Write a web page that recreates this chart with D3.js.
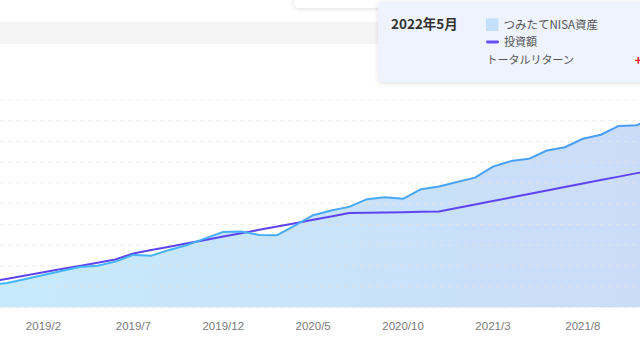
<!DOCTYPE html>
<html>
<head>
<meta charset="utf-8">
<script src="https://cdn.jsdelivr.net/npm/d3@7/dist/d3.min.js"></script>
<style>
  html, body { margin: 0; padding: 0; background: #fff; }
  svg { display: block; }
</style>
</head>
<body>
<svg id="chart" width="640" height="360"></svg>
<script>
// ---- data (万円) ----
const months = ["2018/11", "2018/12",
  "2019/1", "2019/2", "2019/3", "2019/4", "2019/5", "2019/6", "2019/7", "2019/8", "2019/9", "2019/10", "2019/11", "2019/12",
  "2020/1", "2020/2", "2020/3", "2020/4", "2020/5", "2020/6", "2020/7", "2020/8", "2020/9", "2020/10", "2020/11", "2020/12",
  "2021/1", "2021/2", "2021/3", "2021/4", "2021/5", "2021/6", "2021/7", "2021/8", "2021/9", "2021/10", "2021/11", "2021/12"];
const assetValues = [26.9, 29.3, 34.2, 38.9, 43.7, 48.6, 50.2, 55.1, 63.2, 62.3, 69.2, 75.2, 83.1, 90.9, 91.5, 87.3, 87.0, 98.9, 111.1, 116.7, 121.1, 130.4, 132.8, 130.8, 142.5, 145.6, 151.1, 156.4, 169.7, 176.3, 179.1, 189.1, 193.0, 203.3, 208.1, 218.7, 219.6, 228.6];
const investValues = [30.7, 34.5, 38.4, 42.3, 46.1, 49.9, 53.7, 57.6, 65.0, 69.0, 73.1, 77.2, 81.2, 85.3, 89.2, 93.4, 97.5, 101.4, 105.6, 109.5, 113.6, 114.0, 114.4, 114.7, 115.1, 115.5, 119.7, 123.9, 128.1, 132.4, 136.6, 140.8, 145.0, 149.3, 153.5, 157.6, 161.8, 166.1];
const tickLabels = ["2019/2", "2019/7", "2019/12", "2020/5", "2020/10", "2021/3", "2021/8"];
const yTicks = [0, 25, 50, 75, 100, 125, 150, 175, 200, 225, 250];
const seriesNames = ["つみたてNISA資産", "投資額"];
const tooltipTitle = "2022年5月";
const tooltipReturnLabel = "トータルリターン";
const tooltipReturnValue = "+57.8万円";

const narrow = "'Liberation Sans Narrow','Noto Sans CJK JP',sans-serif";
const sans = "'Liberation Sans',Arial,sans-serif";
const cjk = "'Noto Sans CJK JP','Liberation Sans Narrow',sans-serif";

const assetData = months.map((m, i) => ({ m, v: assetValues[i] }));
const investData = months.map((m, i) => ({ m, v: investValues[i] }));

const svg = d3.select("#chart");
const defs = svg.append("defs");

const x = d3.scalePoint().domain(months).range([-10.48, 654.78]).padding(0);
const y = d3.scaleLinear().domain([0, 250]).range([307.3, 100]);

// gradients
const ag = defs.append("linearGradient").attr("id", "areaGrad")
  .attr("gradientUnits", "userSpaceOnUse").attr("x1", 0).attr("x2", 640).attr("y1", 0).attr("y2", 0);
ag.append("stop").attr("offset", "0%").attr("stop-color", "#c6eafb");
ag.append("stop").attr("offset", "100%").attr("stop-color", "#cbdcf9");
const lg = defs.append("linearGradient").attr("id", "lineGrad")
  .attr("gradientUnits", "userSpaceOnUse").attr("x1", 0).attr("x2", 640).attr("y1", 0).attr("y2", 0);
lg.append("stop").attr("offset", "0%").attr("stop-color", "#42b8f8");
lg.append("stop").attr("offset", "100%").attr("stop-color", "#4a9cf4");

const sh = defs.append("filter").attr("id", "shadow").attr("x", "-20%").attr("y", "-50%").attr("width", "140%").attr("height", "200%");
sh.append("feDropShadow").attr("dx", 0).attr("dy", 1).attr("stdDeviation", 2.5)
  .attr("flood-color", "#000").attr("flood-opacity", 0.13);

// top grey band
svg.append("rect").attr("x", 0).attr("y", 22).attr("width", 640).attr("height", 22).attr("fill", "#f5f5f5");

// area
const area = d3.area().x(d => x(d.m)).y0(y(0)).y1(d => y(d.v));
svg.append("path").datum(assetData).attr("d", area).attr("fill", "url(#areaGrad)");

// grid lines over area
svg.append("g").selectAll("line").data(yTicks).join("line")
  .attr("x1", 0).attr("x2", 640)
  .attr("y1", d => y(d)).attr("y2", d => y(d))
  .attr("stroke", "#e4e4e4").attr("stroke-opacity", 0.8)
  .attr("stroke-width", 1).attr("stroke-dasharray", "4,4");

// lines
const line = d3.line().x(d => x(d.m)).y(d => y(d.v));
svg.append("path").datum(investData).attr("d", line)
  .attr("fill", "none").attr("stroke", "#5e44ef").attr("stroke-width", 2).attr("stroke-linejoin", "round");
svg.append("path").datum(assetData).attr("d", line)
  .attr("fill", "none").attr("stroke", "url(#lineGrad)").attr("stroke-width", 2).attr("stroke-linejoin", "round");

// x axis labels
svg.append("g").selectAll("text").data(tickLabels).join("text")
  .attr("x", d => x(d)).attr("y", 330)
  .attr("text-anchor", "middle")
  .attr("font-family", sans).attr("font-size", 11.5).attr("fill", "#7a7a7a")
  .text(d => d);

// top panel (behind tooltip)
svg.append("rect").attr("x", 294).attr("y", -30).attr("width", 400).attr("height", 38).attr("rx", 5)
  .attr("fill", "#fff").attr("filter", "url(#shadow)");

// tooltip
const tt = svg.append("g");
tt.append("rect").attr("x", 378).attr("y", 1.5).attr("width", 300).attr("height", 80.5).attr("rx", 4)
  .attr("fill", "#eef3fd").attr("filter", "url(#shadow)");
tt.append("text").attr("x", 391).attr("y", 29).attr("font-family", narrow).attr("font-size", 13.5)
  .attr("font-weight", "bold").attr("fill", "#333").text(tooltipTitle);
tt.append("rect").attr("x", 486).attr("y", 18.3).attr("width", 12.3).attr("height", 12.7).attr("fill", "#c3e1fb");
tt.append("text").attr("x", 503.5).attr("y", 28.5).attr("font-family", narrow).attr("font-size", 11.5)
  .attr("fill", "#555").text(seriesNames[0]);
tt.append("rect").attr("x", 486).attr("y", 40.6).attr("width", 13).attr("height", 2.8).attr("rx", 1.4).attr("fill", "#6a4cf5");
tt.append("text").attr("x", 504).attr("y", 45.5).attr("font-family", cjk).attr("font-size", 11)
  .attr("fill", "#555").text(seriesNames[1]);
tt.append("text").attr("x", 486.5).attr("y", 64).attr("font-family", cjk).attr("font-size", 11)
  .attr("fill", "#555").text(tooltipReturnLabel);
tt.append("text").attr("x", 634.5).attr("y", 64.5).attr("font-family", narrow).attr("font-size", 13)
  .attr("font-weight", "bold").attr("fill", "#e8132b").text(tooltipReturnValue);
</script>
</body>
</html>
